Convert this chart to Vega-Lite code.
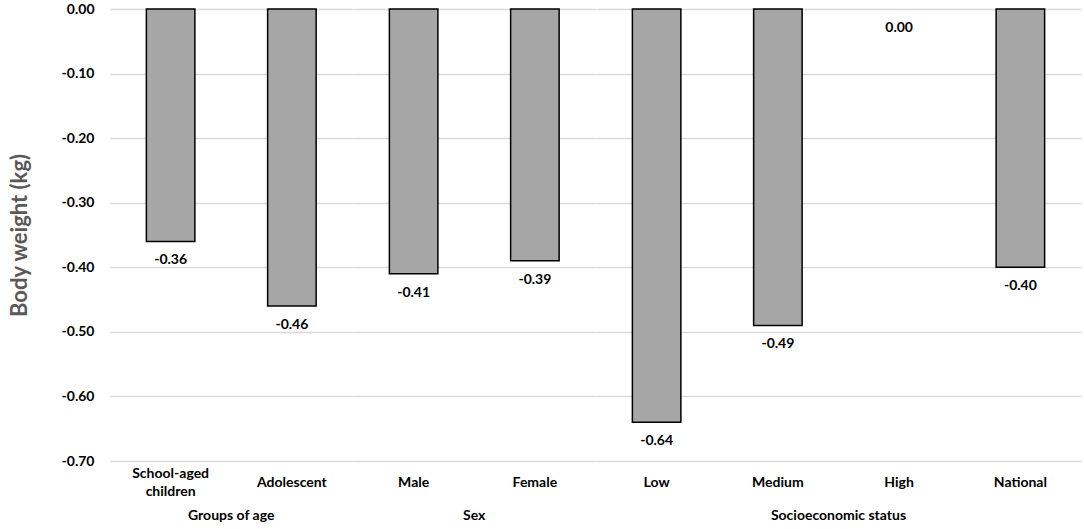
{
  "$schema": "https://vega.github.io/schema/vega-lite/v6.json",
  "padding": {"left": 8, "top": 2, "right": 4, "bottom": 4},
  "background": "white",
  "config": {
    "locale": {"number": {"decimal": ".", "thousands": ",", "grouping": [3], "currency": ["$", ""], "minus": "-"}},
    "view": {"stroke": null},
    "font": "Lato"
  },
  "data": {
    "values": [
      {"group": "Groups of age", "category": "School-aged children", "value": -0.36},
      {"group": "Groups of age", "category": "Adolescent", "value": -0.46},
      {"group": "Sex", "category": "Male", "value": -0.41},
      {"group": "Sex", "category": "Female", "value": -0.39},
      {"group": "Socioeconomic status", "category": "Low", "value": -0.64},
      {"group": "Socioeconomic status", "category": "Medium", "value": -0.49},
      {"group": "Socioeconomic status", "category": "High", "value": 0.0},
      {"group": "Socioeconomic status", "category": "National", "value": -0.40}
    ]
  },
  "facet": {
    "column": {
      "field": "group",
      "type": "nominal",
      "sort": ["Groups of age", "Sex", "Socioeconomic status"],
      "header": {
        "title": null,
        "labelOrient": "bottom",
        "labelFont": "Lato",
        "labelFontWeight": "bold",
        "labelFontSize": 14,
        "labelColor": "#000000",
        "labelPadding": 11
      }
    }
  },
  "spacing": 0,
  "resolve": {"scale": {"x": "independent"}},
  "spec": {
    "width": {"step": 121.25},
    "height": 452,
    "encoding": {
      "x": {
        "field": "category",
        "type": "nominal",
        "sort": null,
        "scale": {"paddingInner": 0.6, "paddingOuter": 0.3},
        "axis": {
          "title": null,
          "domain": false,
          "ticks": false,
          "grid": false,
          "labelAngle": 0,
          "labelFont": "Lato",
          "labelFontWeight": "bold",
          "labelFontSize": 14,
          "labelColor": "#000000",
          "labelBaseline": "middle",
          "labelLineHeight": 18,
          "labelPadding": {"condition": {"test": "datum.value == 'School-aged children'", "value": 12}, "value": 21},
          "labelExpr": "datum.label == 'School-aged children' ? ['School-aged', 'children'] : datum.label"
        }
      }
    },
    "layer": [
      {
        "mark": {"type": "bar", "fill": "#A6A6A6", "stroke": "#000000", "strokeWidth": 1.5},
        "encoding": {
          "y": {
            "field": "value",
            "type": "quantitative",
            "scale": {"domain": [-0.7, 0], "nice": false},
            "axis": {
              "title": "Body weight (kg)",
              "titleFont": "Lato",
              "titleFontSize": 22,
              "titleFontWeight": "bold",
              "titleColor": "#595959",
              "titlePadding": 30,
              "values": [0, -0.1, -0.2, -0.3, -0.4, -0.5, -0.6, -0.7],
              "format": ".2f",
              "domain": false,
              "ticks": false,
              "labelFont": "Lato",
              "labelFontWeight": "bold",
              "labelFontSize": 14,
              "labelColor": "#000000",
              "labelPadding": 16,
              "grid": true,
              "gridColor": "#D9D9D9",
              "gridWidth": 1.5
            }
          },
          "strokeOpacity": {"condition": {"test": "datum.value == 0", "value": 0}, "value": 1}
        }
      },
      {
        "mark": {"type": "text", "baseline": "middle", "dy": 19, "fontWeight": "bold", "fontSize": 14, "font": "Lato", "color": "#000000"},
        "encoding": {
          "y": {"field": "value", "type": "quantitative"},
          "text": {"field": "value", "type": "quantitative", "format": ".2f"}
        }
      }
    ]
  }
}
